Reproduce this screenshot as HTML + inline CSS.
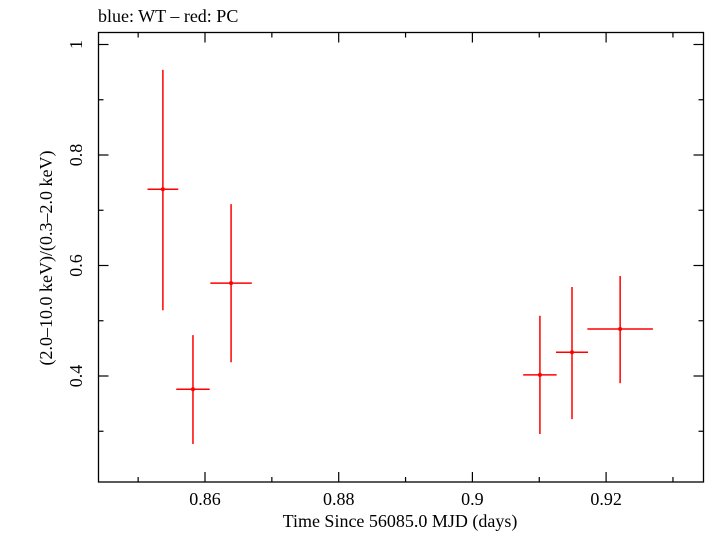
<!DOCTYPE html>
<html><head><meta charset="utf-8"><style>
body{margin:0;background:#fff;}
svg text{font-family:"Liberation Serif",serif;fill:#000;}
</style></head><body>
<svg width="705" height="532" viewBox="0 0 705 532">
<text x="98" y="22" font-size="18">blue: WT – red: PC</text>
<rect x="98.5" y="32.5" width="605" height="449.5" fill="none" stroke="#000" stroke-width="1.3"/>
<g id="ticks"></g>
<g id="marks"></g>
<text x="400" y="527" font-size="18" text-anchor="middle">Time Since 56085.0 MJD (days)</text>
<text transform="translate(52,258) rotate(-90)" font-size="18" text-anchor="middle">(2.0–10.0 keV)/(0.3–2.0 keV)</text>
</svg>
<script>
const times=[0.8537,0.8582,0.8639,0.9101,0.9149,0.9221];
const timeErr=[0.0023,0.0025,0.0031,0.0025,0.0024,0.0049];
const ratios=[0.738,0.376,0.568,0.402,0.443,0.485];
const ratioUp=[0.954,0.474,0.711,0.509,0.561,0.581];
const ratioLo=[0.519,0.277,0.425,0.295,0.322,0.387];
const xTicks=[0.86,0.88,0.9,0.92];
const xTickLabels=["0.86","0.88","0.9","0.92"];
const yTicks=[0.4,0.6,0.8,1];
const yTickLabels=["0.4","0.6","0.8","1"];
const xMinor=[0.85,0.87,0.89,0.91,0.93];
const yMinor=[0.3,0.5,0.7,0.9];

const X=v=>205+(v-0.86)*6685;
const Y=v=>376-(v-0.4)*552.5;
const NS="http://www.w3.org/2000/svg";
const L=98.5,R=703.5,T=32.5,B=482;
function mk(tag,attrs,parent){const e=document.createElementNS(NS,tag);for(const k in attrs)e.setAttribute(k,attrs[k]);parent.appendChild(e);return e;}
const tg=document.getElementById('ticks');
xTicks.forEach((v,i)=>{
  const x=X(v);
  let t=mk('line',{x1:x,x2:x,y1:B,y2:B-10,stroke:'#000','stroke-width':1.2},tg);
  
  
  t=mk('line',{x1:x,x2:x,y1:T,y2:T+10,stroke:'#000','stroke-width':1.2},tg);
  
  
  const lb=mk('text',{x:x,y:505,'font-size':18,'text-anchor':'middle'},tg);
  lb.textContent=xTickLabels[i];
  
  
});
xMinor.forEach(v=>{
  const x=X(v);
  let t=mk('line',{x1:x,x2:x,y1:B,y2:B-5,stroke:'#000','stroke-width':1.2},tg);
  
  
  t=mk('line',{x1:x,x2:x,y1:T,y2:T+5,stroke:'#000','stroke-width':1.2},tg);
  
  
});
yTicks.forEach((v,i)=>{
  const y=Y(v);
  let t=mk('line',{x1:L,x2:L+10,y1:y,y2:y,stroke:'#000','stroke-width':1.2},tg);
  
  
  t=mk('line',{x1:R,x2:R-10,y1:y,y2:y,stroke:'#000','stroke-width':1.2},tg);
  
  
  const lb=mk('text',{transform:`translate(82,${y}) rotate(-90)`,'font-size':18,'text-anchor':'middle'},tg);
  lb.textContent=yTickLabels[i];
  
  
});
yMinor.forEach(v=>{
  const y=Y(v);
  let t=mk('line',{x1:L,x2:L+5,y1:y,y2:y,stroke:'#000','stroke-width':1.2},tg);
  
  
  t=mk('line',{x1:R,x2:R-5,y1:y,y2:y,stroke:'#000','stroke-width':1.2},tg);
  
  
});
const mg=document.getElementById('marks');
times.forEach((t,i)=>{
  const g=mk('g',{},mg);
  
  
  mk('line',{x1:X(t-timeErr[i]),x2:X(t+timeErr[i]),y1:Y(ratios[i]),y2:Y(ratios[i]),stroke:'#f00','stroke-width':1.5},g);
  mk('line',{x1:X(t),x2:X(t),y1:Y(ratioUp[i]),y2:Y(ratioLo[i]),stroke:'#f00','stroke-width':1.5},g);
  mk('circle',{cx:X(t),cy:Y(ratios[i]),r:2,fill:'#f00'},g);
});
</script>
</body></html>
